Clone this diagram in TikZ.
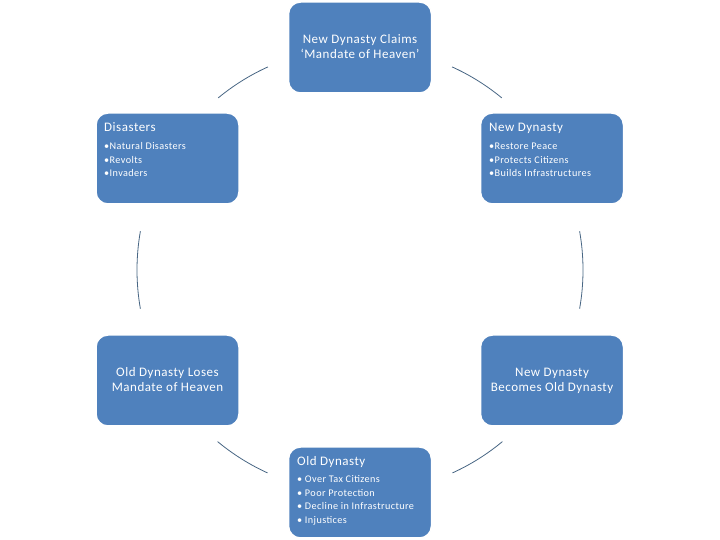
\documentclass[tikz,border=0pt]{standalone}
\usepackage{fontspec}
\setmainfont{Carlito}[LetterSpace=4]
\definecolor{boxblue}{RGB}{79,129,189}
\definecolor{arcgray}{RGB}{72,102,132}
\tikzset{
  stagebox/.style={draw=white, line width=1.5pt, fill=boxblue, rounded corners=12pt,
    minimum width=143pt, minimum height=91pt, inner sep=0pt},
  headtext/.style={text=white, inner sep=0pt, font=\fontsize{13}{15}\selectfont},
  bullettext/.style={text=white, inner sep=0pt, font=\fontsize{10.2}{13.5}\selectfont},
  arcline/.style={draw=arcgray, line width=0.8pt},
}
\begin{document}
\begin{tikzpicture}[x=1pt,y=1pt]
\useasboundingbox[fill=white] (0,0) rectangle (720,540);
\coordinate (c) at (360,270);
% boxes
\node[stagebox] (top) at (360,492.5) {};
\node[stagebox] (dis) at (167.5,381.5) {};
\node[stagebox] (newd) at (552,381.5) {};
\node[stagebox] (loses) at (167.5,159.5) {};
\node[stagebox] (becomes) at (552,159.5) {};
\node[stagebox] (oldd) at (360,47.5) {};
% centred texts
\node[headtext, anchor=base, align=center] (toptxt) at (360,496)
  {\begin{tabular}[t]{@{}c@{}}New Dynasty Claims\\ ‘Mandate of Heaven’\end{tabular}};
\node[headtext, anchor=base] (losestxt) at (167.5,163)
  {\begin{tabular}[t]{@{}c@{}}Old Dynasty Loses\\ Mandate of Heaven\end{tabular}};
\node[headtext, anchor=base] (becomestxt) at (552,163)
  {\begin{tabular}[t]{@{}c@{}}New Dynasty\\ Becomes Old Dynasty\end{tabular}};
% titled boxes
\node[headtext, anchor=base west] (distitle) at (104,408) {Disasters};
\node[bullettext, anchor=base west] (dislist) at (104,390)
  {\begin{tabular}[t]{@{}l@{}}•Natural Disasters\\ •Revolts\\ •Invaders\end{tabular}};
\node[headtext, anchor=base west] (newdtitle) at (489,408) {New Dynasty};
\node[bullettext, anchor=base west] (newdlist) at (489,390)
  {\begin{tabular}[t]{@{}l@{}}•Restore Peace\\ •Protects Citizens\\ •Builds Infrastructures\end{tabular}};
\node[headtext, anchor=base west] (olddtitle) at (297,74) {Old Dynasty};
\node[bullettext, anchor=base west] (olddlist) at (297,57)
  {\begin{tabular}[t]{@{}l@{}}• Over Tax Citizens\\ • Poor Protection\\ • Decline in Infrastructure\\ • Injustices\end{tabular}};
% arcs
\draw[arcline] ([shift={(129.5:223)}]c) arc[start angle=129.5, end angle=114.4, radius=223];
\draw[arcline] ([shift={(65.6:223)}]c) arc[start angle=65.6, end angle=50.5, radius=223];
\draw[arcline] ([shift={(10:223)}]c) arc[start angle=10, end angle=-10, radius=223];
\draw[arcline] ([shift={(-50.3:223)}]c) arc[start angle=-50.3, end angle=-65.5, radius=223];
\draw[arcline] ([shift={(245.5:223)}]c) arc[start angle=245.5, end angle=230.3, radius=223];
\draw[arcline] ([shift={(190:223)}]c) arc[start angle=190, end angle=170, radius=223];
\end{tikzpicture}
\end{document}
